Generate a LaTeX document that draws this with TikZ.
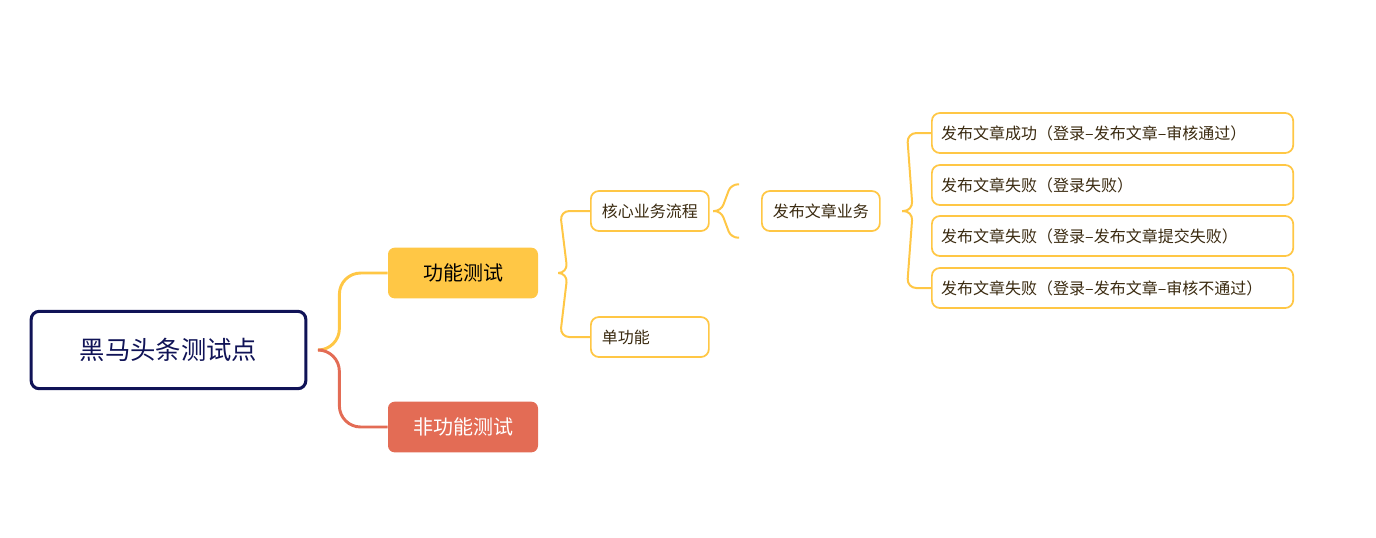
\documentclass[tikz,border=0pt]{standalone}
\usepackage{fontspec}
\setmainfont{Noto Sans CJK SC}
\begin{document}
\begin{tikzpicture}[x=0.75pt,y=-0.75pt,
  yel/.style={draw=mY,line width=1.5pt},
  root/.style={draw=mN,line width=2.3pt,rounded corners=6pt,fill=white,minimum width=206pt,minimum height=58pt,text=mN,font=\fontsize{19}{22}\selectfont},
  maj/.style={rounded corners=5pt,minimum width=112.5pt,minimum height=38pt,font=\fontsize{15}{18}\selectfont},
  sub/.style={draw=mY,line width=1.3pt,rounded corners=6pt,fill=white,minimum height=30pt,text=mT,font=\fontsize{12}{14}\selectfont,anchor=west},
  leaf/.style={sub,text width=257pt,inner xsep=7pt,align=left}]
\definecolor{mY}{HTML}{FFC745}
\definecolor{mR}{HTML}{E36C55}
\definecolor{mN}{HTML}{101357}
\definecolor{mT}{HTML}{3A2A10}
\useasboundingbox (0,0) rectangle (1376,537);
\node[root] (r) at (168.5,350) {黑马头条测试点};
\node[maj,fill=mY,text=black] (f) at (463,273) {功能测试};
\node[maj,fill=mR,text=white] (nf) at (463,427) {非功能测试};
\node[sub,minimum width=88.5pt] (c) at (590,211) {核心业务流程};
\node[sub,minimum width=88.5pt,align=left,text width=72pt] (d) at (590,337) {单功能};
\node[sub,minimum width=88.5pt] (p) at (761,211) {发布文章业务};
\node[leaf] (l1) at (931,133) {发布文章成功（登录--发布文章--审核通过）};
\node[leaf] (l2) at (931,185) {发布文章失败（登录失败）};
\node[leaf] (l3) at (931,236) {发布文章失败（登录--发布文章提交失败）};
\node[leaf] (l4) at (931,288) {发布文章失败（登录--发布文章--审核不通过）};
% root connectors
\draw[draw=mY,line width=2.2pt,rounded corners=16pt] ([xshift=12pt]r.east) -- ++(16,0) |- (f.west);
\draw[draw=mR,line width=2.2pt,rounded corners=16pt] ([xshift=12pt]r.east) -- ++(16,0) |- (nf.west);
% brace 1
\draw[yel,rounded corners=7pt] (c.west) -- ++(-30,0) -- ([xshift=22]f.east) -- ([xshift=15]f.east);
\draw[yel,rounded corners=7pt] (d.west) -- ++(-30,0) -- ([xshift=22]f.east) -- ([xshift=15]f.east);
% brace 2
\draw[yel,rounded corners=5pt] ([yshift=-20]p.west) ++(-22,0) -- ++(-8,0) -- ([xshift=-30]p.west) -- ([xshift=-36]p.west);
\draw[yel,rounded corners=5pt] ([yshift=20]p.west) ++(-22,0) -- ++(-8,0) -- ([xshift=-30]p.west) -- ([xshift=-36]p.west);
% brace 3
\draw[yel,rounded corners=7pt] (l1.west) -- ++(-24,0) -- ([xshift=24]p.east) -- ([xshift=16]p.east);
\draw[yel,rounded corners=7pt] (l4.west) -- ++(-24,0) -- ([xshift=24]p.east) -- ([xshift=16]p.east);
\end{tikzpicture}
\end{document}
